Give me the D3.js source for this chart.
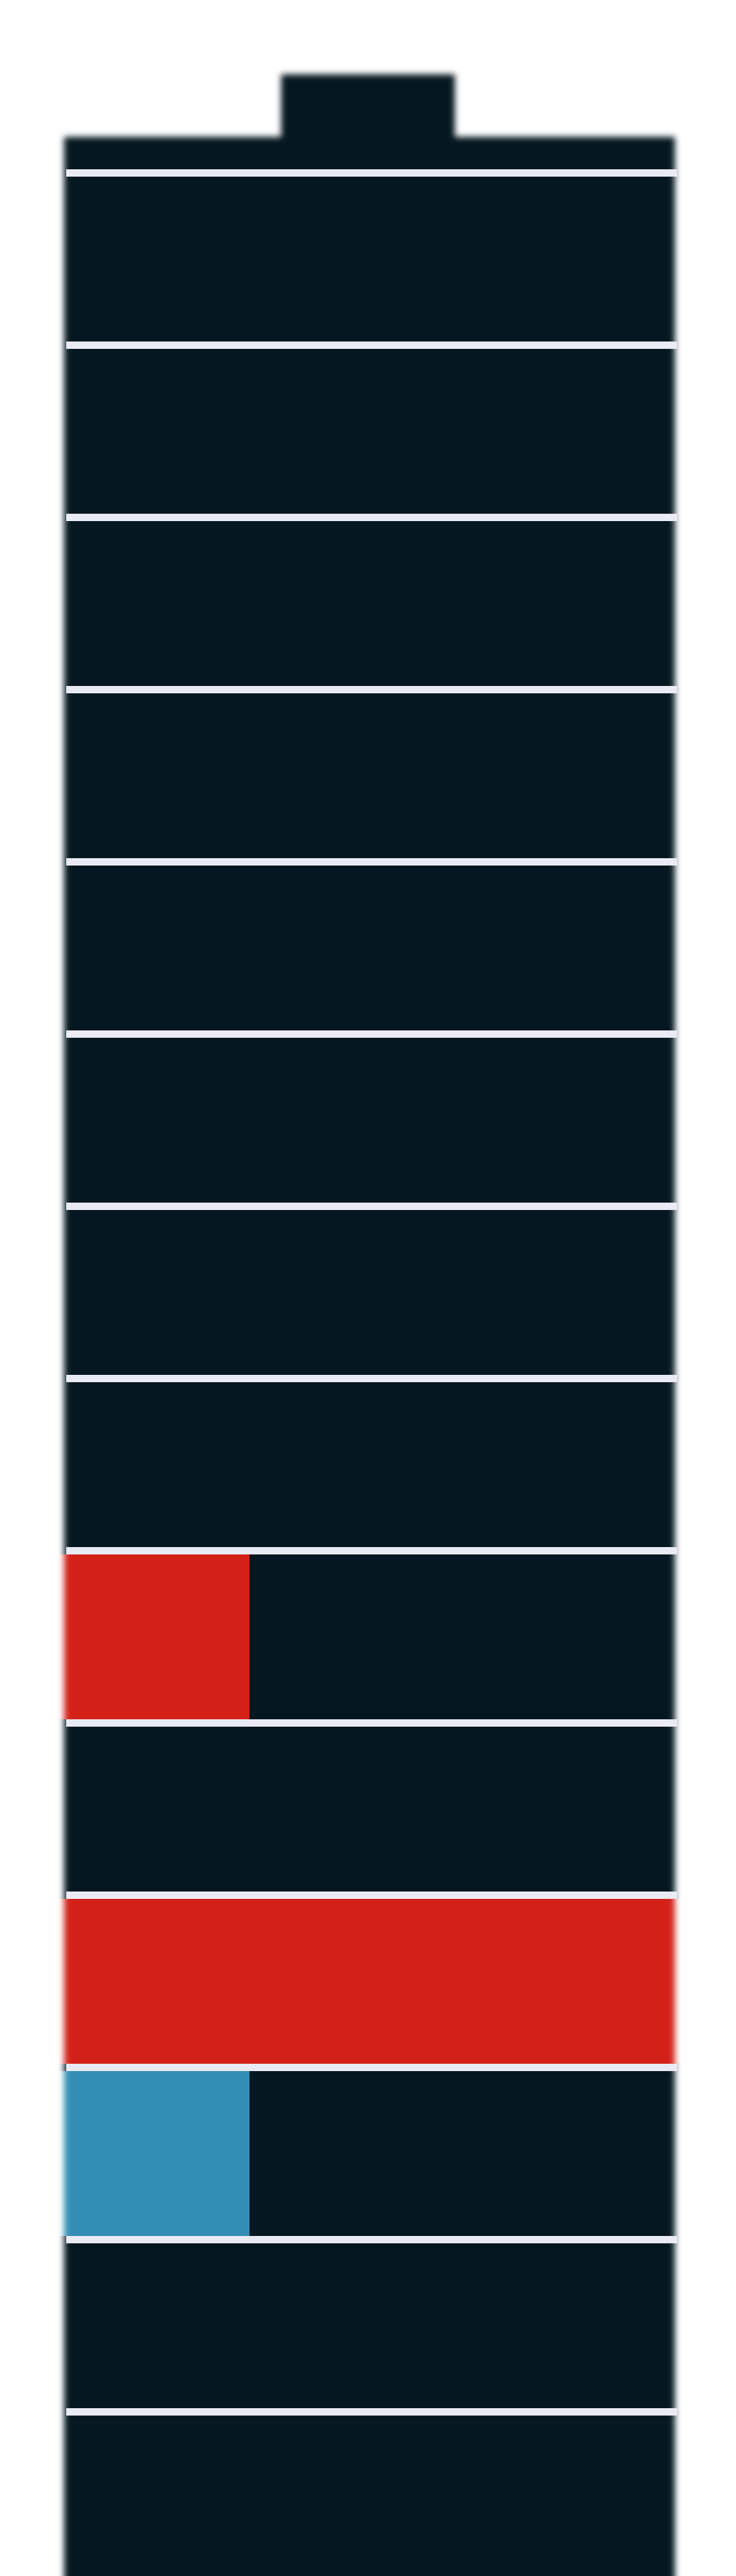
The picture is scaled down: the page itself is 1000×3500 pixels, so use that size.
<!DOCTYPE html>
<html>
<head>
<meta charset="utf-8">
<script src="https://cdn.jsdelivr.net/npm/d3@7"></script>
<style>
  html, body { margin: 0; padding: 0; background: #ffffff; }
  svg { display: block; }
</style>
</head>
<body>
<script>
// ---- data ----
const rows = d3.range(1, 14);                 // row indices between separator lines
const separators = d3.range(0, 14);           // separator line indices
const fillValues = [0, 0, 0, 0, 0, 0, 0, 0, 0.3, 0, 1, 0.3, 0]; // fraction filled per row
const fillColors = ["#d32119", "#d32119", "#d32119", "#d32119", "#d32119", "#d32119", "#d32119", "#d32119", "#d32119", "#d32119", "#d32119", "#338eb3", "#d32119"];

const W = 1000, H = 3500;
const svg = d3.select("body").append("svg").attr("width", W).attr("height", H);

const x = d3.scaleLinear().domain([0, 1]).range([90, 920]);
const y = d3.scaleLinear().domain([0, 14]).range([235, 235 + 234 * 14]);
const gap = 5;

const defs = svg.append("defs");
const filt = defs.append("filter").attr("id", "blur")
  .attr("filterUnits", "userSpaceOnUse").attr("x", 0).attr("y", 0).attr("width", W).attr("height", H + 200);
filt.append("feGaussianBlur").attr("stdDeviation", 4.5);

const mask = defs.append("mask").attr("id", "shape")
  .attr("maskUnits", "userSpaceOnUse").attr("x", 0).attr("y", 0).attr("width", W).attr("height", H + 200);
const mg = mask.append("g").attr("filter", "url(#blur)");
mg.append("rect").attr("x", x(0) - 3).attr("y", 186).attr("width", x(1) - x(0)).attr("height", H).attr("fill", "#fff");
mg.append("rect").attr("x", 382).attr("y", 101).attr("width", 236).attr("height", 100).attr("fill", "#fff");

const body = svg.append("g").attr("mask", "url(#shape)");
body.append("rect").attr("x", 0).attr("y", 0).attr("width", W).attr("height", H + 200).attr("fill", "#051720");

body.selectAll("rect.cell")
  .data(rows.map((r, i) => ({ r, v: fillValues[i], c: fillColors[i] })).filter(d => d.v > 0))
  .join("rect")
  .attr("class", "cell")
  .attr("x", d => d.v >= 1 ? 0 : x(0) - 10)
  .attr("width", d => d.v >= 1 ? W : x(d.v) - x(0) + 10)
  .attr("y", d => y(d.r - 1) + gap)
  .attr("height", d => y(d.r) - y(d.r - 1) - 2 * gap)
  .attr("fill", d => d.c);

svg.selectAll("rect.sep")
  .data(separators)
  .join("rect")
  .attr("class", "sep")
  .attr("x", x(0))
  .attr("width", x(1) - x(0))
  .attr("y", d => y(d) - gap)
  .attr("height", 2 * gap)
  .attr("fill", "#e9eaf3");
</script>
</body>
</html>
